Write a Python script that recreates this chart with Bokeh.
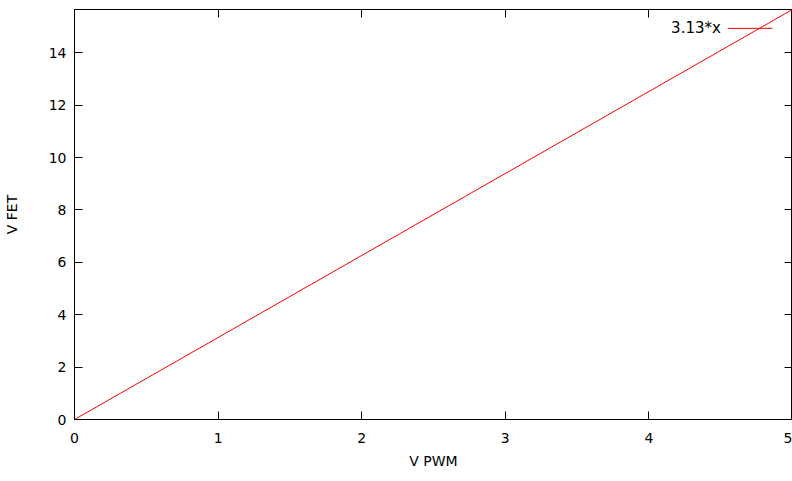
from bokeh.plotting import figure
from bokeh.models import LinearAxis, Range1d, FixedTicker, Label
from bokeh.embed import file_html
from bokeh.resources import INLINE

x_vals = [0, 5]
y_vals = [0, 15.65]
x_ticks = [0, 1, 2, 3, 4, 5]
y_ticks = [0, 2, 4, 6, 8, 10, 12, 14]
legend_label = "3.13*x"
legend_x = [4.55, 4.86]
legend_y = [14.93, 14.93]

FONT = "DejaVu Sans"

p = figure(width=792, height=473, output_backend="svg", toolbar_location=None,
           x_range=Range1d(0, 5), y_range=Range1d(0, 15.65),
           x_axis_label="V PWM", y_axis_label="V FET",
           min_border_left=68, min_border_right=0, min_border_top=9, min_border_bottom=54)
p.grid.visible = False
p.outline_line_color = "black"
p.outline_line_width = 1
p.background_fill_color = "white"
p.border_fill_color = "white"

for ax in p.axis:
    ax.major_tick_in = 8
    ax.major_tick_out = 0
    ax.minor_tick_line_color = None
    ax.axis_line_color = "black"
    ax.major_tick_line_color = "black"
    ax.major_label_text_font = FONT
    ax.major_label_text_font_size = "14px"
    ax.major_label_text_color = "black"
    ax.axis_label_text_font = FONT
    ax.axis_label_text_font_size = "14px"
    ax.axis_label_text_font_style = "normal"
    ax.axis_label_text_color = "black"

p.xaxis.ticker = FixedTicker(ticks=x_ticks)
p.yaxis.ticker = FixedTicker(ticks=y_ticks)
p.xaxis.major_label_standoff = 13
p.yaxis.major_label_standoff = 8
p.xaxis.axis_label_standoff = 7
p.yaxis.axis_label_standoff = 26

top = LinearAxis(ticker=FixedTicker(ticks=x_ticks), major_label_text_font_size="0px",
                 major_tick_in=8, major_tick_out=0, minor_tick_line_color=None,
                 axis_line_color="black", major_label_standoff=0,
                 major_label_overrides={t: "" for t in x_ticks})
right = LinearAxis(ticker=FixedTicker(ticks=y_ticks), major_label_text_font_size="0px",
                   major_tick_in=8, major_tick_out=0, minor_tick_line_color=None,
                   axis_line_color="black", major_label_standoff=0,
                   major_label_overrides={t: "" for t in y_ticks})
p.add_layout(top, "above")
p.add_layout(right, "right")

p.line(x_vals, y_vals, line_color="#ff0000", line_width=1)

p.line(legend_x, legend_y, line_color="#ff0000", line_width=1)
p.add_layout(Label(x=legend_x[0], y=legend_y[0], x_offset=-7, text=legend_label,
                   text_align="right", text_baseline="middle",
                   text_font=FONT, text_font_size="15px", text_color="black"))

open("out.html", "w").write(file_html(p, INLINE))
